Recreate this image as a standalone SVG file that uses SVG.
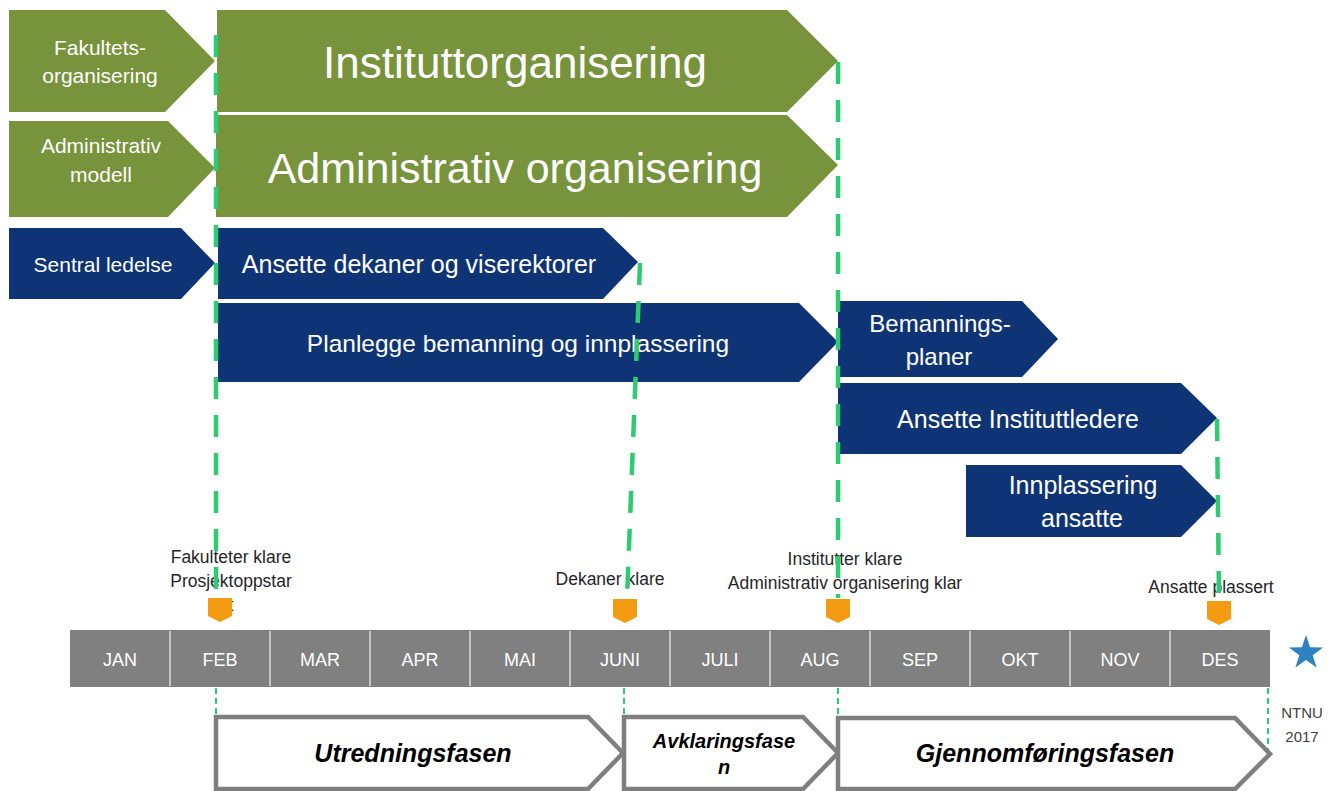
<svg xmlns="http://www.w3.org/2000/svg" width="1331" height="791" viewBox="0 0 1331 791">
<style>
.g{fill:#77933C}
.b{fill:#0F3476}
.w{fill:#fff;font-family:"Liberation Sans",Arial,sans-serif;text-anchor:middle}
.ms{fill:#262626;font-family:"Liberation Sans",Arial,sans-serif;font-size:17.5px;text-anchor:middle}
.mo{fill:#fff;font-family:"Liberation Sans",Arial,sans-serif;font-size:18px;text-anchor:middle}
.ph{fill:#fff;stroke:#7F7F7F;stroke-width:4.5;stroke-linejoin:miter}
.pt{fill:#000;font-family:"Liberation Sans",Arial,sans-serif;font-weight:bold;font-style:italic;text-anchor:middle}
.dl{fill:none;stroke:#2ECC71;stroke-width:4.5;stroke-dasharray:22 16}
.tl{fill:none;stroke:#2ECC71;stroke-width:2;stroke-dasharray:6 4}
.mk{fill:#F39C12}
.dv{stroke:#C4C4C4;stroke-width:2}
</style>
<rect width="1331" height="791" fill="#fff"/>

<g id="fakultetsorganisering">
<polygon class="g" points="9,10 165,10 215,61 165,112 9,112"/>
<text class="w" font-size="21" x="100" y="55">Fakultets-</text>
<text class="w" font-size="21" x="100" y="83">organisering</text>
</g>
<g id="administrativ-modell">
<polygon class="g" points="9,121 168,121 215,168 168,217 9,217"/>
<text class="w" font-size="21" x="101" y="153">Administrativ</text>
<text class="w" font-size="21" x="101" y="182">modell</text>
</g>
<g id="instituttorganisering">
<polygon class="g" points="217,10 787,10 838,61 787,112 217,112"/>
<text class="w" font-size="44" x="515" y="78">Instituttorganisering</text>
</g>
<g id="administrativ-organisering">
<polygon class="g" points="216,115 787,115 838,165 787,217 216,217"/>
<text class="w" font-size="43" x="515" y="183">Administrativ organisering</text>
</g>
<g id="sentral-ledelse">
<polygon class="b" points="9,228 181,228 215,263 181,299 9,299"/>
<text class="w" font-size="21" x="103" y="272">Sentral ledelse</text>
</g>
<g id="ansette-dekaner">
<polygon class="b" points="218,228 603,228 638,262 603,299 218,299"/>
<text class="w" font-size="25" x="419" y="273">Ansette dekaner og viserektorer</text>
</g>
<g id="planlegge">
<polygon class="b" points="218,303 799,303 838,342 799,382 218,382"/>
<text class="w" font-size="24.5" x="518" y="352">Planlegge bemanning og innplassering</text>
</g>
<g id="bemanningsplaner">
<polygon class="b" points="838,301 1022,301 1058,339 1022,377 838,377"/>
<text class="w" font-size="24" x="940" y="332">Bemannings-</text>
<text class="w" font-size="24" x="939" y="365">planer</text>
</g>
<g id="ansette-instituttledere">
<polygon class="b" points="838,383 1181,383 1217,418 1181,454 838,454"/>
<text class="w" font-size="25" x="1018" y="428">Ansette Instituttledere</text>
</g>
<g id="innplassering-ansatte">
<polygon class="b" points="966,465 1181,465 1217,501 1181,537 966,537"/>
<text class="w" font-size="25" x="1083" y="494">Innplassering</text>
<text class="w" font-size="25" x="1082" y="527">ansatte</text>
</g>

<g id="milestone-labels">
<text class="ms" x="231" y="563">Fakulteter klare</text>
<text class="ms" x="231" y="587">Prosjektoppstar</text>
<text class="ms" x="231" y="611">t</text>
<text class="ms" x="610" y="585">Dekaner klare</text>
<text class="ms" x="845" y="565">Institutter klare</text>
<text class="ms" x="845" y="589">Administrativ organisering klar</text>
<text class="ms" x="1211" y="593">Ansatte plassert</text>
</g>

<g id="timeline">
<rect x="70" y="630" width="1200" height="57" fill="#808080"/>
<line class="dv" x1="170" y1="631" x2="170" y2="686"/>
<line class="dv" x1="270" y1="631" x2="270" y2="686"/>
<line class="dv" x1="370" y1="631" x2="370" y2="686"/>
<line class="dv" x1="470" y1="631" x2="470" y2="686"/>
<line class="dv" x1="570" y1="631" x2="570" y2="686"/>
<line class="dv" x1="670" y1="631" x2="670" y2="686"/>
<line class="dv" x1="770" y1="631" x2="770" y2="686"/>
<line class="dv" x1="870" y1="631" x2="870" y2="686"/>
<line class="dv" x1="970" y1="631" x2="970" y2="686"/>
<line class="dv" x1="1070" y1="631" x2="1070" y2="686"/>
<line class="dv" x1="1170" y1="631" x2="1170" y2="686"/>
<text class="mo" x="120" y="666">JAN</text>
<text class="mo" x="220" y="666">FEB</text>
<text class="mo" x="320" y="666">MAR</text>
<text class="mo" x="420" y="666">APR</text>
<text class="mo" x="520" y="666">MAI</text>
<text class="mo" x="620" y="666">JUNI</text>
<text class="mo" x="720" y="666">JULI</text>
<text class="mo" x="820" y="666">AUG</text>
<text class="mo" x="920" y="666">SEP</text>
<text class="mo" x="1020" y="666">OKT</text>
<text class="mo" x="1120" y="666">NOV</text>
<text class="mo" x="1220" y="666">DES</text>
</g>

<g id="connectors">
<line class="dl" x1="216" y1="35" x2="216" y2="598"/>
<line class="dl" x1="640" y1="263" x2="627" y2="598"/>
<line class="dl" x1="838" y1="62" x2="838" y2="598"/>
<line class="dl" x1="1217" y1="419" x2="1219" y2="600"/>
<line class="tl" x1="216" y1="688" x2="216" y2="716"/>
<line class="tl" x1="624" y1="688" x2="624" y2="716"/>
<line class="tl" x1="838" y1="688" x2="838" y2="716"/>
<line class="tl" x1="1268" y1="688" x2="1268" y2="752"/>
</g>

<g id="milestones">
<polygon class="mk" points="208,598 232,598 232,616 220,622 208,616"/>
<polygon class="mk" points="613,599 637,599 637,617 625,623 613,617"/>
<polygon class="mk" points="826,599 850,599 850,617 838,623 826,617"/>
<polygon class="mk" points="1207,601 1231,601 1231,619 1219,625 1207,619"/>
</g>

<g id="ntnu-2017">
<polygon fill="#2E82C2" points="1306,635 1310.1,647.3 1323.1,647.4 1312.7,655.2 1316.6,667.6 1306,660 1295.4,667.6 1299.3,655.2 1288.9,647.4 1301.9,647.3"/>
<text font-family="'Liberation Sans',Arial,sans-serif" font-size="15" fill="#404040" text-anchor="middle" x="1302" y="718">NTNU</text>
<text font-family="'Liberation Sans',Arial,sans-serif" font-size="15" fill="#404040" text-anchor="middle" x="1302" y="742">2017</text>
</g>

<g id="utredningsfasen">
<polygon class="ph" points="216,717 588,717 623,753 588,789 216,789"/>
<text class="pt" font-size="25" x="413" y="762">Utredningsfasen</text>
</g>
<g id="avklaringsfasen">
<polygon class="ph" points="624,717 803,717 838,753 803,789 624,789"/>
<text class="pt" font-size="20" x="724" y="748">Avklaringsfase</text>
<text class="pt" font-size="20" x="724" y="774">n</text>
</g>
<g id="gjennomforingsfasen">
<polygon class="ph" points="838,718 1235,718 1270,754 1235,789 838,789"/>
<text class="pt" font-size="25" x="1045" y="762">Gjennomføringsfasen</text>
</g>
</svg>
